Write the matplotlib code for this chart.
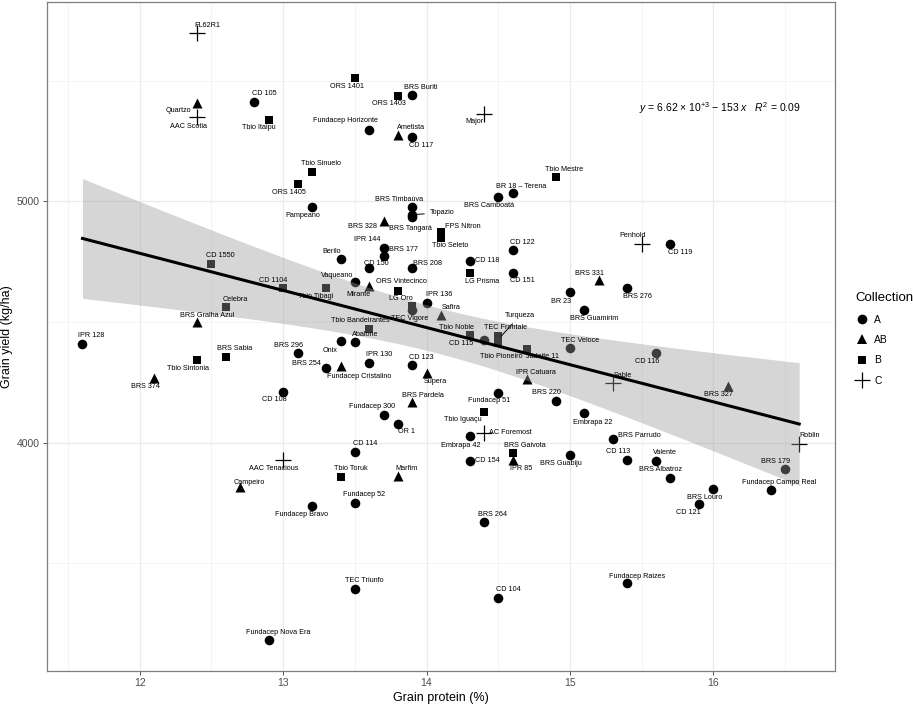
import numpy as np
import matplotlib
matplotlib.use("Agg")
import matplotlib.pyplot as plt
from matplotlib.lines import Line2D

plt.rcParams['font.family'] = ['Liberation Sans', 'DejaVu Sans']
plt.rcParams['mathtext.fontset'] = 'custom'
plt.rcParams['mathtext.rm'] = 'Liberation Sans'
plt.rcParams['mathtext.it'] = 'Liberation Sans:italic'

# genotype data
names = [
    "FL62R1", "Quartzo", "AAC Scotia", "CD 105", "Tbio Itaipu", "ORS 1401",
    "Tbio Sinuelo", "ORS 1405", "Pampeano", "ORS 1403", "BRS Buriti",
    "Fundacep Horizonte", "Ametista", "CD 117", "Major", "Tbio Mestre",
    "BR 18 – Terena", "BRS Camboatá", "BRS Timbaúva", "Topazio", "BRS Tangará",
    "BRS 328", "FPS Nitron", "Tbio Seleto", "IPR 144", "BRS 177", "Berilo",
    "CD 150", "BRS 208", "Vaqueano", "Mirante", "Tbio Tibagi", "CD 1104",
    "ORS Vintecinco", "LG Oro", "TEC Vigore", "IPR 136", "Safira",
    "Tbio Bandeirantes", "Tbio Noble", "CD 115", "TEC Frontale", "Tbio Pioneiro",
    "Turqueza", "Jadeite 11", "TEC Veloce", "Sable", "IPR Catuara", "CD 123",
    "Supera", "IPR 130", "Abalone", "Onix", "Fundacep Cristalino", "BRS 254",
    "BRS 296", "CD 108", "Celebra", "CD 1550", "BRS Gralha Azul", "IPR 128",
    "BRS Sabia", "Tbio Sintonia", "BRS 374", "CD 122", "CD 118", "LG Prisma",
    "CD 151", "BRS 331", "BR 23", "BRS Guamirim", "BRS 276", "Penhold",
    "CD 119", "CD 116", "BRS 327", "BRS Pardela", "Fundacep 51", "BRS 220",
    "Fundacep 300", "OR 1", "Tbio Iguaçu", "AC Foremost", "Embrapa 42",
    "CD 154", "BRS Gaivota", "IPR 85", "BRS Guabiju", "Embrapa 22",
    "BRS Parrudo", "CD 113", "Valente", "BRS Albatroz", "BRS Louro", "CD 121",
    "Fundacep Campo Real", "BRS 179", "Roblin", "Fundacep Raizes", "CD 104",
    "BRS 264", "TEC Triunfo", "CD 114", "Tbio Toruk", "Marfim", "Fundacep 52",
    "AAC Tenacious", "Campeiro", "Fundacep Bravo", "Fundacep Nova Era",
]
protein = [
    12.4, 12.4, 12.4, 12.8, 12.9, 13.5,
    13.2, 13.1, 13.2, 13.8, 13.9,
    13.6, 13.8, 13.9, 14.4, 14.9,
    14.6, 14.5, 13.9, 13.9, 13.9,
    13.7, 14.1, 14.1, 13.7, 13.7, 13.4,
    13.6, 13.9, 13.5, 13.6, 13.3, 13.0,
    13.8, 13.9, 13.9, 14.0, 14.1,
    13.6, 14.3, 14.4, 14.5, 14.5,
    14.5, 14.7, 15.0, 15.3, 14.7, 13.9,
    14.0, 13.6, 13.5, 13.4, 13.4, 13.3,
    13.1, 13.0, 12.6, 12.5, 12.4, 11.6,
    12.6, 12.4, 12.1, 14.6, 14.3, 14.3,
    14.6, 15.2, 15.0, 15.1, 15.4, 15.5,
    15.7, 15.6, 16.1, 13.9, 14.5, 14.9,
    13.7, 13.8, 14.4, 14.4, 14.3,
    14.3, 14.6, 14.6, 15.0, 15.1,
    15.3, 15.4, 15.6, 15.7, 16.0, 15.9,
    16.4, 16.5, 16.6, 15.4, 14.5,
    14.4, 13.5, 13.5, 13.4, 13.8, 13.5,
    13.0, 12.7, 13.2, 12.9,
]
grain_yield = [
    5698, 5409, 5349, 5413, 5338, 5512,
    5122, 5071, 4975, 5438, 5441,
    5297, 5276, 5265, 5363, 5101,
    5034, 5020, 4975, 4945, 4935,
    4920, 4875, 4850, 4807, 4774, 4760,
    4722, 4725, 4664, 4651, 4642, 4642,
    4629, 4565, 4552, 4581, 4530,
    4472, 4448, 4427, 4444, 4412,
    4428, 4389, 4393, 4247, 4263, 4320,
    4290, 4331, 4417, 4421, 4316, 4311,
    4370, 4211, 4562, 4742, 4499, 4410,
    4357, 4341, 4270, 4797, 4752, 4704,
    4705, 4674, 4623, 4548, 4641, 4825,
    4823, 4370, 4236, 4167, 4208, 4174,
    4115, 4078, 4129, 4040, 4026,
    3925, 3957, 3930, 3948, 4122,
    4016, 3929, 3926, 3854, 3806, 3747,
    3804, 3889, 3996, 3417, 3358,
    3671, 3394, 3962, 3859, 3862, 3752,
    3930, 3815, 3739, 3181,
]
collection = [
    "C", "AB", "C", "A", "B", "B",
    "B", "B", "A", "B", "A",
    "A", "AB", "A", "C", "B",
    "A", "A", "A", "A", "A",
    "AB", "B", "B", "A", "A", "A",
    "A", "A", "A", "AB", "B", "B",
    "B", "B", "A", "A", "AB",
    "B", "B", "A", "B", "B",
    "B", "B", "A", "C", "AB", "A",
    "AB", "A", "A", "A", "AB", "A",
    "A", "A", "B", "B", "AB", "A",
    "B", "B", "AB", "A", "A", "B",
    "A", "AB", "A", "A", "A", "C",
    "A", "A", "AB", "AB", "A", "A",
    "A", "A", "B", "C", "A",
    "A", "B", "AB", "A", "A",
    "A", "A", "A", "A", "A", "A",
    "A", "A", "C", "A", "A",
    "A", "A", "A", "B", "AB", "A",
    "C", "AB", "A", "A",
]

# label placement (pixel offsets of text centre from the point)
label_offsets = {
    "FL62R1": (10, 8), "Quartzo": (-19, -8), "AAC Scotia": (-9, -9),
    "CD 105": (10, 8), "Tbio Itaipu": (-10, -8), "ORS 1401": (-8, -9),
    "ORS 1403": (-9, -8), "BRS Buriti": (9, 8), "Fundacep Horizonte": (-24, 9),
    "Ametista": (13, 7), "CD 117": (9, -8), "Major": (-9, -8),
    "Tbio Sinuelo": (9, 8), "ORS 1405": (-9, -8), "Pampeano": (-9, -8),
    "Tbio Mestre": (9, 8), "BR 18 – Terena": (9, 7), "BRS Camboatá": (-9, -9),
    "BRS Timbaúva": (-13, 8), "Topazio": (30, 2), "BRS Tangará": (-2, -11),
    "BRS 328": (-21, -6), "FPS Nitron": (22, 5), "Tbio Seleto": (9, -8),
    "IPR 144": (-16, 8), "BRS 177": (20, 6), "Berilo": (-9, 8),
    "CD 150": (7, 5), "BRS 208": (15, 4), "Vaqueano": (-18, 7),
    "Mirante": (-11, -9), "Tbio Tibagi": (-11, -9), "CD 1104": (-10, 7),
    "ORS Vintecinco": (4, 9), "LG Oro": (-11, 8), "TEC Vigore": (-2, -9),
    "IPR 136": (13, 8), "Safira": (10, 7), "Tbio Bandeirantes": (-9, 8),
    "Tbio Noble": (-13, 7), "CD 115": (-23, -4), "TEC Frontale": (7, 8),
    "Turqueza": (22, 24), "Tbio Pioneiro": (3, -13), "Jadeite 11": (16, -8),
    "TEC Veloce": (10, 7), "IPR Catuara": (9, 7), "Sable": (10, 8),
    "CD 116": (-9, -8), "BRS 327": (-9, -9), "Penhold": (-9, 8),
    "CD 119": (10, -8), "BRS 331": (-9, 7), "BRS 276": (10, -8),
    "BR 23": (-9, -9), "BRS Guamirim": (10, -8), "CD 122": (10, 8),
    "CD 118": (18, 1), "LG Prisma": (13, -9), "CD 151": (10, -8),
    "Celebra": (9, 8), "CD 1550": (9, 8), "BRS Gralha Azul": (10, 7),
    "IPR 128": (9, 8), "BRS Sabia": (9, 8), "Tbio Sintonia": (-9, -8),
    "BRS 374": (-9, -9), "BRS 296": (-9, 8), "BRS 254": (-20, 4),
    "Onix": (-10, -9), "CD 108": (-9, -8), "Fundacep Cristalino": (19, -10),
    "Abalone": (10, 8), "IPR 130": (10, 8), "CD 123": (9, 8),
    "Supera": (9, -9), "BRS Pardela": (11, 7), "Fundacep 51": (-9, -8),
    "BRS 220": (-9, 8), "Embrapa 22": (9, -9), "Fundacep 300": (-11, 8),
    "OR 1": (9, -8), "Tbio Iguaçu": (-21, -8), "AC Foremost": (27, 1),
    "Embrapa 42": (-9, -9), "CD 154": (18, 0), "BRS Gaivota": (12, 8),
    "IPR 85": (9, -9), "BRS Guabiju": (-9, -8), "BRS Parrudo": (27, 3),
    "CD 113": (-9, 8), "Valente": (9, 8), "BRS Albatroz": (-10, 8),
    "BRS Louro": (-9, -8), "CD 121": (-10, -9), "Fundacep Campo Real": (9, 7),
    "BRS 179": (-9, 8), "Roblin": (10, 8), "Fundacep Raizes": (10, 7),
    "CD 104": (10, 8), "BRS 264": (9, 8), "TEC Triunfo": (9, 8),
    "CD 114": (10, 8), "Tbio Toruk": (10, 8), "Marfim": (9, 7),
    "Fundacep 52": (9, 8), "AAC Tenacious": (-9, -9), "Campeiro": (9, 5),
    "Fundacep Bravo": (-10, -9), "Fundacep Nova Era": (9, 8),
}
segment_labels = {"Topazio", "CD 115", "Turqueza"}

groups = ["A", "AB", "B", "C"]
markers = {"A": "o", "AB": "^", "B": "s", "C": "+"}
sizes = {"A": 48, "AB": 52, "B": 40, "C": 130}

x = np.array(protein)
y = np.array(grain_yield, dtype=float)
coll = np.array(collection)

fig = plt.figure(figsize=(9.13, 7.08), dpi=100)
ax = fig.add_axes([0.0511, 0.0527, 0.8635, 0.9443])

for g in groups:
    m = coll == g
    if g == "C":
        ax.scatter(x[m], y[m], marker="+", s=sizes[g], c="black", linewidths=0.9, zorder=2)
    else:
        ax.scatter(x[m], y[m], marker=markers[g], s=sizes[g], c="black", linewidths=0, zorder=2)

# linear fit with 95% confidence band
b, a = np.polyfit(x, y, 1)
n = len(x)
resid = y - (a + b * x)
s = np.sqrt(np.sum(resid ** 2) / (n - 2))
sxx = np.sum((x - x.mean()) ** 2)
xs = np.linspace(x.min(), x.max(), 100)
ys = a + b * xs
se = s * np.sqrt(1 / n + (xs - x.mean()) ** 2 / sxx)
t = 1.98
ax.fill_between(xs, ys - t * se, ys + t * se, color="#999999", alpha=0.4, linewidth=0, zorder=3)
ax.plot(xs, ys, color="black", linewidth=2.2, zorder=4)

for nm, xi, yi in zip(names, protein, grain_yield):
    dx, dy = label_offsets.get(nm, (0, 8))
    arrow = None
    if nm in segment_labels:
        arrow = dict(arrowstyle="-", lw=0.7, color="black", shrinkA=2, shrinkB=3)
    ax.annotate(nm, (xi, yi), xytext=(dx, dy), textcoords="offset pixels",
                ha="center", va="center", fontsize=5.2, color="black",
                arrowprops=arrow, zorder=5)

ax.text(0.854, 0.841, r"$y$ = 6.62 $\times$ 10$^{+3}$ $-$ 153 $x$   $R^2$ = 0.09",
        transform=ax.transAxes, ha="center", va="center", fontsize=7.5)

ax.set_xlim(11.35, 16.85)
ax.set_ylim(3055, 5826)
ax.set_xticks([12, 13, 14, 15, 16])
ax.set_xticks([11.5, 12.5, 13.5, 14.5, 15.5, 16.5], minor=True)
ax.set_yticks([4000, 5000])
ax.set_yticks([3500, 4500, 5500], minor=True)
ax.grid(which="major", color="#EBEBEB", linewidth=0.9)
ax.grid(which="minor", color="#F3F3F3", linewidth=0.6)
ax.set_axisbelow(True)
ax.tick_params(which="major", length=3, width=0.6, color="#333333", labelsize=7.5,
               labelcolor="#4D4D4D", pad=2)
ax.tick_params(which="minor", length=0)
for sp in ax.spines.values():
    sp.set_color("#7F7F7F")
    sp.set_linewidth(0.9)

ax.set_xlabel("Grain protein (%)", fontsize=9, labelpad=3)
ax.set_ylabel("Grain yield (kg/ha)", fontsize=9)
ax.yaxis.set_label_coords(-0.043, 0.5)

handles = []
for g in groups:
    if g == "C":
        h = Line2D([], [], marker="+", color="black", linestyle="none", markersize=11, markeredgewidth=0.9)
    else:
        h = Line2D([], [], marker=markers[g], color="black", linestyle="none",
                   markersize=7 if g != "B" else 6.3, markeredgewidth=0)
    handles.append(h)
leg = fig.legend(handles, groups, title="Collection", loc="upper left",
                 bbox_to_anchor=(0.927, 0.6), frameon=False, fontsize=7.4,
                 title_fontsize=9.5, alignment="left", labelspacing=1.0,
                 handletextpad=0.6, handlelength=1.2)

fig.savefig("out.png", dpi=100)
